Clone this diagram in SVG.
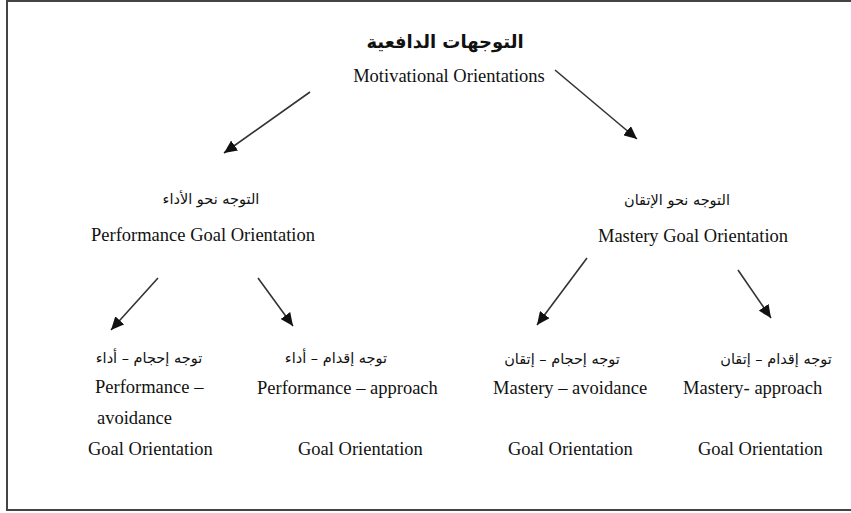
<svg xmlns="http://www.w3.org/2000/svg" width="851" height="513" viewBox="0 0 851 513">
<style>
.en{font-family:"Liberation Serif","Times New Roman",serif;font-size:18.5px;fill:#111}
.ar{font-family:"DejaVu Sans","Noto Sans",sans-serif;font-size:14.5px;fill:#111}
.title{font-family:"DejaVu Sans","Noto Sans",sans-serif;font-size:18px;font-weight:bold;fill:#111}
.conn{stroke:#333;stroke-width:1.6;fill:none;marker-end:url(#ah)}
</style>
<defs>
<marker id="ah" markerUnits="userSpaceOnUse" markerWidth="14" markerHeight="12" refX="13" refY="6" orient="auto">
<path d="M0,0 L13,6 L0,12 Z" fill="#111"/>
</marker>
</defs>
<rect x="0" y="0" width="851" height="513" fill="#fff"/>
<rect x="7" y="1" width="860" height="509" fill="none" stroke="#444" stroke-width="2"/>
<g id="root">
<text class="title" x="445" y="48" text-anchor="middle" direction="rtl">التوجهات الدافعية</text>
<text class="en" x="449" y="82" text-anchor="middle">Motivational Orientations</text>
</g>
<g id="performance">
<text class="ar" x="211" y="204" text-anchor="middle" direction="rtl">التوجه نحو الأداء</text>
<text class="en" x="203" y="241" text-anchor="middle">Performance Goal Orientation</text>
</g>
<g id="mastery">
<text class="ar" x="677" y="205" text-anchor="middle" direction="rtl">التوجه نحو الإتقان</text>
<text class="en" x="693" y="242" text-anchor="middle">Mastery Goal Orientation</text>
</g>
<g id="perf-avoid">
<text class="ar" x="149" y="363" text-anchor="middle" direction="rtl">توجه إحجام – أداء</text>
<text class="en" x="95" y="393">Performance –</text>
<text class="en" x="97" y="424">avoidance</text>
<text class="en" x="88" y="455">Goal Orientation</text>
</g>
<g id="perf-approach">
<text class="ar" x="336" y="363" text-anchor="middle" direction="rtl">توجه إقدام – أداء</text>
<text class="en" x="257" y="394">Performance – approach</text>
<text class="en" x="298" y="455">Goal Orientation</text>
</g>
<g id="mast-avoid">
<text class="ar" x="562" y="364" text-anchor="middle" direction="rtl">توجه إحجام – إتقان</text>
<text class="en" x="493" y="394">Mastery – avoidance</text>
<text class="en" x="508" y="455">Goal Orientation</text>
</g>
<g id="mast-approach">
<text class="ar" x="776" y="364" text-anchor="middle" direction="rtl">توجه إقدام – إتقان</text>
<text class="en" x="683" y="394">Mastery- approach</text>
<text class="en" x="698" y="455">Goal Orientation</text>
</g>
<g id="connectors">
<line class="conn" x1="310" y1="92" x2="224" y2="153"/>
<line class="conn" x1="555" y1="70" x2="637" y2="139"/>
<line class="conn" x1="158" y1="278" x2="111" y2="330"/>
<line class="conn" x1="258" y1="278" x2="293" y2="326"/>
<line class="conn" x1="587" y1="258" x2="537" y2="325"/>
<line class="conn" x1="738" y1="270" x2="771" y2="318"/>
</g>
</svg>
